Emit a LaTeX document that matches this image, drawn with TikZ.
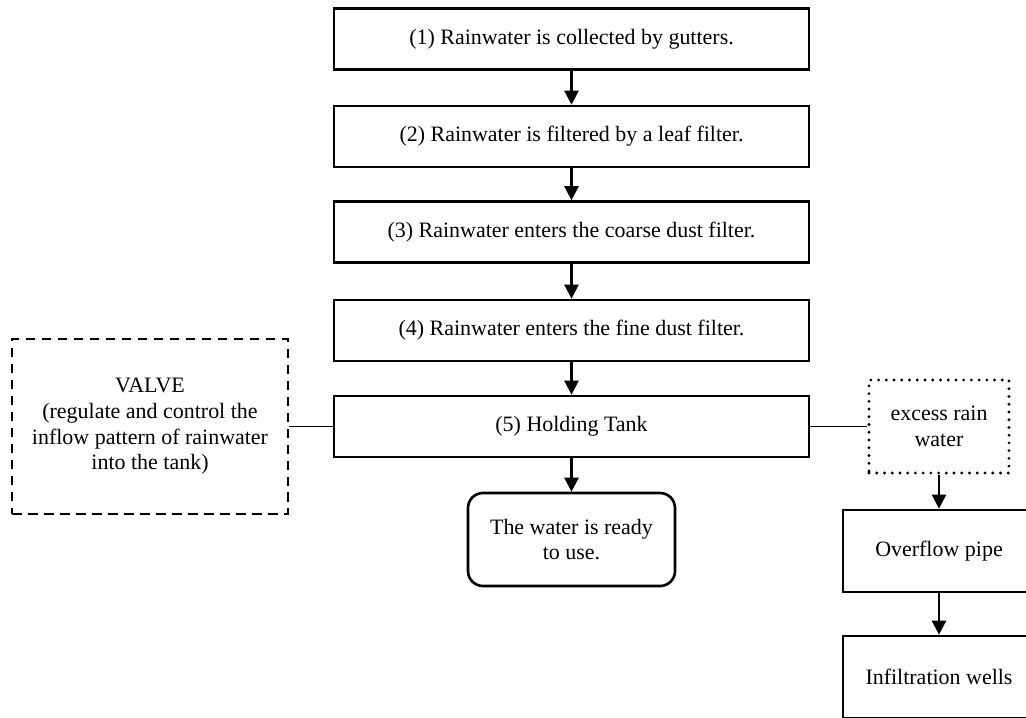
\documentclass[tikz,border=0pt]{standalone}
\usepackage{fontspec}
\setmainfont{Liberation Serif}
\usetikzlibrary{arrows.meta}
\begin{document}
\begin{tikzpicture}[>={Triangle[length=8pt,width=8pt]},
  every node/.style={font=\fontsize{12.5}{14.6}\selectfont,align=center},
  stepbox/.style={draw,line width=1.5pt,minimum width=9.5cm,minimum height=1.22cm},
  sidebox/.style={draw,line width=1.5pt,minimum width=3.84cm,minimum height=1.64cm},
  flow/.style={draw,line width=1.4pt,->},
  link/.style={draw,line width=1.1pt}]
\path[use as bounding box] (0,0) rectangle (20.52,-14.34);

\node[stepbox] (step1) at (11.43,-0.78) {(1) Rainwater is collected by gutters.};
\node[stepbox] (step2) at (11.43,-2.73) {(2) Rainwater is filtered by a leaf filter.};
\node[stepbox] (step3) at (11.43,-4.64) {(3) Rainwater enters the coarse dust filter.};
\node[stepbox] (step4) at (11.43,-6.61) {(4) Rainwater enters the fine dust filter.};
\node[stepbox] (step5) at (11.43,-8.53) {(5) Holding Tank};
\path[flow] (step1) -- (step2);
\path[flow] (step2) -- (step3);
\path[flow] (step3) -- (step4);
\path[flow] (step4) -- (step5);

\node[draw,line width=1.5pt,rounded corners=0.3cm,minimum width=4.14cm,minimum height=1.86cm] (ready) at (11.43,-10.79) {The water is ready\\to use.};
\path[flow] (step5) -- (ready);

\node[draw,line width=1.5pt,dash pattern=on 5.5pt off 3.6pt,minimum width=5.52cm,minimum height=3.5cm] (valve) at (3,-8.53) {VALVE\\(regulate and control the\\inflow pattern of rainwater\\into the tank)};
\path[link] (valve.east) -- (step5.west);

\node[draw,line width=1.8pt,line cap=round,dash pattern=on 0pt off 4.4pt,minimum width=2.8cm,minimum height=1.86cm] (excess) at (18.78,-8.53) {excess rain\\water};
\path[link] (step5.east) -- (excess.west);

\node[sidebox] (pipe) at (18.78,-11.02) {Overflow pipe};
\node[sidebox] (wells) at (18.78,-13.54) {Infiltration wells};
\path[flow] (excess) -- (pipe);
\path[flow] (pipe) -- (wells);
\end{tikzpicture}
\end{document}
